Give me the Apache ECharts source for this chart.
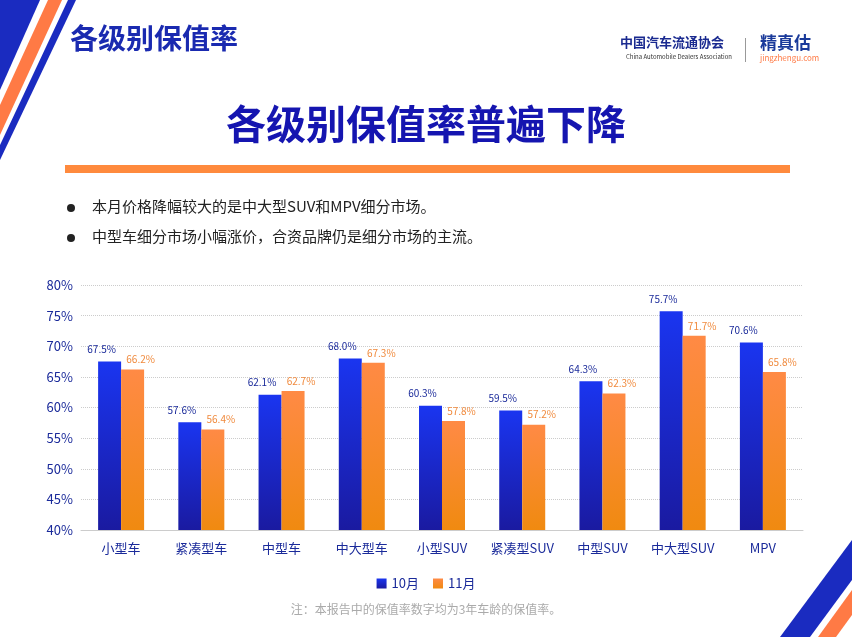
<!DOCTYPE html>
<html><head><meta charset="utf-8">
<script src="https://cdn.jsdelivr.net/npm/echarts@6/dist/echarts.min.js"></script>
<style>html,body{margin:0;padding:0;background:#fff}#c{width:852px;height:637px}</style>
</head><body><div id="c"></div>
<script>
const categories = ['小型车','紧凑型车','中型车','中大型车','小型SUV','紧凑型SUV','中型SUV','中大型SUV','MPV'];
const oct = [67.5,57.6,62.1,68.0,60.3,59.5,64.3,75.7,70.6];
const nov = [66.2,56.4,62.7,67.3,57.8,57.2,62.3,71.7,65.8];
const yTicks = [40,45,50,55,60,65,70,75,80];
const F = '"Noto Sans CJK SC","Noto Sans",sans-serif';
const chart = echarts.init(document.getElementById('c'));
chart.setOption({
  backgroundColor:'#fff',
  animation:false,
  textStyle:{fontFamily:F},
  graphic:[
    {type:'polygon',shape:{points:[[0,0],[40,0],[0,90]]},style:{fill:'#1a2bc0'}},
    {type:'polygon',shape:{points:[[48,0],[62,0],[0,135],[0,105]]},style:{fill:'#ff7a45'}},
    {type:'polygon',shape:{points:[[68,0],[76,0],[0,160],[0,145]]},style:{fill:'#1a2bc0'}},
    {type:'polygon',shape:{points:[[852,540],[852,580],[810,637],[780,637]]},style:{fill:'#1a2bc0'}},
    {type:'polygon',shape:{points:[[852,590],[852,615],[836,637],[818,637]]},style:{fill:'#ff7a45'}},
    {type:'text',left:70,top:24,style:{text:'各级别保值率',font:'bold 28px '+F,fill:'#1a2ab0'}},
    {type:'text',left:620,top:36,style:{text:'中国汽车流通协会',font:'bold 13px '+F,fill:'#1a2a90'}},
    {type:'text',left:626,top:54,style:{text:'China Automobile Dealers Association',font:'6px '+F,fill:'#333'}},
    {type:'rect',shape:{x:745,y:38,width:1,height:24},style:{fill:'#999'}},
    {type:'text',left:760,top:34,style:{text:'精真估',font:'bold 17px '+F,fill:'#1a3a9a'}},
    {type:'text',left:760,top:54,style:{text:'jingzhengu.com',font:'8px '+F,fill:'#ff7a45'}},
    {type:'text',left:'center',top:104,style:{text:'各级别保值率普遍下降',font:'bold 40px '+F,fill:'#1515b0'}},
    {type:'rect',shape:{x:65,y:165,width:725,height:8},style:{fill:'#ff8a3d'}},
    {type:'circle',shape:{cx:71,cy:208,r:4},style:{fill:'#222'}},
    {type:'text',left:92,top:199,style:{text:'本月价格降幅较大的是中大型SUV和MPV细分市场。',font:'15px '+F,fill:'#222'}},
    {type:'circle',shape:{cx:71,cy:238,r:4},style:{fill:'#222'}},
    {type:'text',left:92,top:229,style:{text:'中型车细分市场小幅涨价，合资品牌仍是细分市场的主流。',font:'15px '+F,fill:'#222'}},
    {type:'text',left:'center',top:603,style:{text:'注：本报告中的保值率数字均为3年车龄的保值率。',font:'12px '+F,fill:'#aaa'}}
  ],
  legend:{bottom:42,left:'center',itemWidth:10,itemHeight:10,itemGap:14,icon:'rect',
    textStyle:{fontSize:13,color:'#1a2a9a'},data:['10月','11月']},
  grid:{left:81,right:49,top:285,bottom:107},
  xAxis:{type:'category',data:categories,axisTick:{show:false},
    axisLine:{lineStyle:{color:'#ccc'}},
    axisLabel:{interval:0,fontSize:13,color:'#1a2a9a',margin:12}},
  yAxis:{type:'value',min:40,max:80,interval:5,
    axisLabel:{formatter:v=>v+'%',fontSize:13,color:'#1a2a9a'},
    splitLine:{lineStyle:{type:'dotted',color:'#ccc'}},axisLine:{show:false}},
  series:[
    {name:'10月',type:'bar',data:oct,barWidth:23,barGap:'0%',
     itemStyle:{color:new echarts.graphic.LinearGradient(0,0,0,1,[{offset:0,color:'#1a35f0'},{offset:1,color:'#1a1aa0'}])},
     label:{show:true,position:'top',formatter:p=>p.value.toFixed(1)+'%',fontSize:10,color:'#1a2a9a',offset:[-8,-2]}},
    {name:'11月',type:'bar',data:nov,barWidth:23,
     itemStyle:{color:new echarts.graphic.LinearGradient(0,0,0,1,[{offset:0,color:'#ff8a45'},{offset:1,color:'#f08a10'}])},
     label:{show:true,position:'top',formatter:p=>p.value.toFixed(1)+'%',fontSize:10,color:'#f08a3d',offset:[8,0]}}
  ]
});
</script></body></html>
